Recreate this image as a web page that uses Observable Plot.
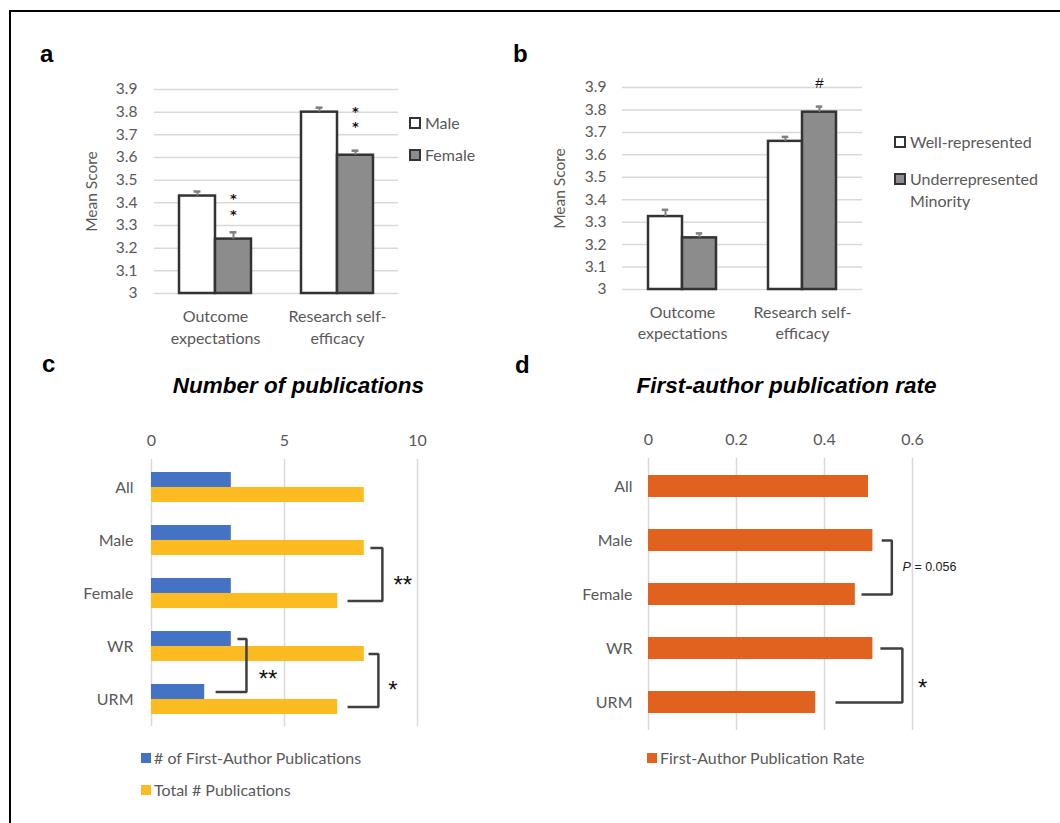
<!DOCTYPE html>
<html>
<head>
<meta charset="utf-8">
<script src="https://cdn.jsdelivr.net/npm/d3@7"></script>
<script src="https://cdn.jsdelivr.net/npm/@observablehq/plot@0.6"></script>
<style>
  html, body { margin: 0; padding: 0; background: #fff; }
  #page { position: relative; width: 1060px; height: 823px; overflow: hidden; background: #fff; font-family: Lato, "Open Sans", sans-serif; }
  .frame { position: absolute; left: 9px; top: 10px; width: 1200px; height: 1000px; border-left: 2px solid #000; border-top: 2px solid #000; }
  .abs { position: absolute; }
  .letter { position: absolute; font: bold 24px "Liberation Sans", Arial, sans-serif; line-height: 24px; color: #000; }
  .title { position: absolute; width: 420px; text-align: center; font: italic bold 22.5px "Liberation Sans", Arial, sans-serif; line-height: 22px; color: #000; white-space: nowrap; }
  .legend { position: absolute; font-family: Lato, sans-serif; font-size: 16px; color: #595959; line-height: 20px; }
  .legend .item { display: flex; align-items: flex-start; white-space: pre; }
  .swatch { display: inline-block; box-sizing: border-box; flex: none; }
</style>
</head>
<body>
<div id="page">
  <div class="frame"></div>
</div>
<script>
// ---------- data: panels a & b ----------
const scoreCategories = ["Outcome expectations", "Research self-efficacy"];
const scoreCategoryLabels = ["Outcome\nexpectations", "Research self-\nefficacy"];
const scoreTicks = [3, 3.1, 3.2, 3.3, 3.4, 3.5, 3.6, 3.7, 3.8, 3.9];

const genderGroups = ["Male", "Female"];
const maleMeans = [3.43, 3.80];
const maleErrors = [0.02, 0.02];
const femaleMeans = [3.24, 3.61];
const femaleErrors = [0.03, 0.02];

const raceGroups = ["Well-represented", "Underrepresented Minority"];
const raceLegendLabels = ["Well-represented", "Underrepresented\nMinority"];
const wrMeans = [3.325, 3.66];
const wrErrors = [0.03, 0.02];
const urmMeans = [3.23, 3.79];
const urmErrors = [0.02, 0.025];

// ---------- data: panels c & d ----------
const pubGroups = ["All", "Male", "Female", "WR", "URM"];
const firstAuthorPubs = [3, 3, 3, 3, 2];
const totalPubs = [8, 8, 7, 8, 7];
const pubTicks = [0, 5, 10];
const pubSeries = ["# of First-Author Publications", "Total # Publications"];

const firstAuthorRate = [0.50, 0.51, 0.47, 0.51, 0.38];
const rateTicks = [0, 0.2, 0.4, 0.6];
const rateSeries = ["First-Author Publication Rate"];

// ---------- colours ----------
const scoreFills = ["#ffffff", "#8c8c8c"];
const pubColors = ["#4472C4", "#FDBB22"];
const rateColor = "#E1621E";
const inkGray = "#595959";

const page = document.getElementById("page");
function place(node, left, top) {
  const d = document.createElement("div");
  d.className = "abs";
  d.style.left = left + "px";
  d.style.top = top + "px";
  d.appendChild(node);
  page.appendChild(d);
}
function addDiv(cls, text, left, top) {
  const d = document.createElement("div");
  d.className = cls;
  d.textContent = text;
  d.style.left = left + "px";
  d.style.top = top + "px";
  page.appendChild(d);
  return d;
}

// ---------- grouped score charts (a, b) ----------
function scorePlot(cfg) {
  const data = scoreCategories.flatMap((cat, i) => [
    {cat, group: cfg.groups[0], mean: cfg.means[0][i], err: cfg.errs[0][i]},
    {cat, group: cfg.groups[1], mean: cfg.means[1][i], err: cfg.errs[1][i]}
  ]);
  const bw = cfg.plotW / 2 / (2 + 2 * cfg.padOuter);
  const capInset = (bw - 7) / 2;
  return Plot.plot({
    width: cfg.marginLeft + cfg.plotW + 10,
    height: cfg.marginTop + cfg.plotH + 60,
    marginLeft: cfg.marginLeft, marginRight: 10, marginTop: cfg.marginTop, marginBottom: 60,
    style: {fontFamily: "Lato, sans-serif", color: inkGray, background: "transparent", maxWidth: "none", overflow: "visible"},
    fx: {domain: scoreCategories, padding: 0, label: null},
    x: {domain: cfg.groups, paddingInner: 0, paddingOuter: cfg.padOuter, axis: null},
    y: {domain: [scoreTicks[0], scoreTicks[scoreTicks.length - 1]]},
    color: {domain: cfg.groups, range: scoreFills},
    marks: [
      Plot.gridY(scoreTicks, {stroke: "#d9d9d9", strokeOpacity: 1, strokeWidth: 1.5}),
      Plot.axisY(scoreTicks, {tickSize: 0, tickPadding: cfg.tickPadding, fontSize: 15.5, tickFormat: d => String(d),
        label: "Mean Score", labelAnchor: "center", labelOffset: cfg.labelOffset, labelArrow: "none"}),
      Plot.axisFx({anchor: "bottom", tickSize: 0, tickPadding: cfg.fxPadding, fontSize: 16, lineHeight: cfg.fxLine, label: null,
        tickFormat: d => scoreCategoryLabels[scoreCategories.indexOf(d)]}),
      Plot.barY(data, {fx: "cat", x: "group", y1: scoreTicks[0], y2: "mean", fill: "group", stroke: "#333", strokeWidth: 2.5}),
      Plot.ruleX(data, {fx: "cat", x: "group", y1: "mean", y2: d => d.mean + d.err, stroke: "#7f7f7f", strokeWidth: 2}),
      Plot.tickY(data, {fx: "cat", x: "group", y: d => d.mean + d.err, stroke: "#7f7f7f", strokeWidth: 2.5, insetLeft: capInset, insetRight: capInset}),
      Plot.text(cfg.marks, {fx: "cat", x: "group", y: "y", text: "label", fontSize: cfg.markSize, lineHeight: cfg.markLine,
        fontWeight: cfg.markWeight, fill: "#111", fontFamily: cfg.markFont})
    ]
  });
}

// significance marks on the score charts (annotation positions in data units)
const genderMarks = [
  {cat: scoreCategories[0], group: "Female", y: 3.385, label: "*\n*"},
  {cat: scoreCategories[1], group: "Female", y: 3.77, label: "*\n*"}
];
const raceMarks = [
  {cat: scoreCategories[1], group: raceGroups[1], y: 3.92, label: "#"}
];

place(scorePlot({groups: genderGroups, means: [maleMeans, femaleMeans], errs: [maleErrors, femaleErrors],
  marginLeft: 94, marginTop: 19, plotW: 244, plotH: 204, padOuter: 0.69, tickPadding: 17, labelOffset: 69, fxPadding: 13, fxLine: 1.38,
  marks: genderMarks, markSize: 13, markLine: 1.17, markWeight: "bold", markFont: "DejaVu Sans, sans-serif"}), 60, 70);
place(scorePlot({groups: raceGroups, means: [wrMeans, urmMeans], errs: [wrErrors, urmErrors],
  marginLeft: 92, marginTop: 17, plotW: 240, plotH: 202, padOuter: 0.74, tickPadding: 16, labelOffset: 69, fxPadding: 14, fxLine: 1.28,
  marks: raceMarks, markSize: 15, markLine: 1, markWeight: "normal", markFont: "Liberation Sans, Arial, sans-serif"}), 530, 70);

// legends a, b
function scoreLegend(labels, left, tops) {
  labels.forEach((lab, i) => {
    const item = document.createElement("div");
    item.className = "legend";
    item.style.left = left + "px";
    item.style.top = tops[i] + "px";
    item.style.lineHeight = "22px";
    const row = document.createElement("div");
    row.className = "item";
    const sw = document.createElement("span");
    sw.className = "swatch";
    sw.style.cssText = `width:12px;height:12px;border:2.5px solid #333;background:${scoreFills[i]};margin:5px 4px 0 0;`;
    const tx = document.createElement("span");
    tx.textContent = lab;
    row.appendChild(sw); row.appendChild(tx);
    item.appendChild(row);
    page.appendChild(item);
  });
}
scoreLegend(genderGroups, 409, [112, 144]);
scoreLegend(raceLegendLabels, 894, [131, 168]);

// ---------- horizontal bar charts (c, d) ----------
function bracketLines(brackets) {
  return brackets.flatMap((b, i) => [
    {id: i, x: b.start, y: b.from}, {id: i, x: b.spine, y: b.from},
    {id: i, x: b.spine, y: b.to}, {id: i, x: b.end, y: b.to}
  ]);
}

const pubData = pubGroups.map((g, i) => ({group: g, first: firstAuthorPubs[i], total: totalPubs[i]}));
// brackets: x positions in data units, rows from pubGroups
const pubBrackets = [
  {from: "Male", to: "Female", series: "total", start: 8.23, spine: 8.68, end: 7.37, label: "**", labelX: 9.45, labelDy: -8},
  {from: "WR", to: "URM", series: "first", start: 3.23, spine: 3.57, end: 2.41, label: "**", labelX: 4.38, labelDy: -20},
  {from: "WR", to: "URM", series: "total", start: 8.16, spine: 8.53, end: 7.37, label: "*", labelX: 9.08, labelDy: -9}
];
const pubBand = 267 / 5 * (1 - 0.44);
const pubPlot = Plot.plot({
  width: 417, height: 321, marginLeft: 121, marginRight: 30, marginTop: 49, marginBottom: 5,
  style: {fontFamily: "Lato, sans-serif", color: inkGray, background: "transparent", maxWidth: "none", overflow: "visible"},
  x: {domain: [pubTicks[0], pubTicks[pubTicks.length - 1]]},
  y: {domain: pubGroups, paddingInner: 0.44, paddingOuter: 0.22},
  marks: [
    Plot.gridX(pubTicks, {stroke: "#d9d9d9", strokeOpacity: 1, strokeWidth: 1.5}),
    Plot.axisX(pubTicks, {anchor: "top", tickSize: 0, tickPadding: 14, fontSize: 16, label: null}),
    Plot.axisY({tickSize: 0, tickPadding: 18, fontSize: 16, label: null}),
    Plot.barX(pubData, {x: "first", y: "group", fill: pubColors[0], insetBottom: pubBand / 2}),
    Plot.barX(pubData, {x: "total", y: "group", fill: pubColors[1], insetTop: pubBand / 2}),
    Plot.line(bracketLines(pubBrackets.filter(b => b.series === "first")), {x: "x", y: "y", z: "id", dy: -pubBand / 4,
      stroke: "#404040", strokeWidth: 2.5, strokeLinejoin: "miter", strokeLinecap: "butt"}),
    Plot.line(bracketLines(pubBrackets.filter(b => b.series === "total")), {x: "x", y: "y", z: "id", dy: pubBand / 4,
      stroke: "#404040", strokeWidth: 2.5, strokeLinejoin: "miter", strokeLinecap: "butt"}),
    ...pubBrackets.map(b => Plot.text([b], {x: "labelX", y: "to", text: "label", dy: b.labelDy, fontSize: 24,
      fill: "#111", fontFamily: "Liberation Sans, Arial, sans-serif"}))
  ]
});
place(pubPlot, 30, 410);

const rateData = pubGroups.map((g, i) => ({group: g, rate: firstAuthorRate[i]}));
const rateBrackets = [
  {from: "Male", to: "Female", start: 0.53, spine: 0.553, end: 0.484, labelX: 0.577, p: "0.056"},
  {from: "WR", to: "URM", start: 0.527, spine: 0.577, end: 0.425, label: "*", labelX: 0.623}
];
const ratePlot = Plot.plot({
  width: 482, height: 325, marginLeft: 148, marginRight: 70, marginTop: 48, marginBottom: 5,
  style: {fontFamily: "Lato, sans-serif", color: inkGray, background: "transparent", maxWidth: "none", overflow: "visible"},
  x: {domain: [rateTicks[0], rateTicks[rateTicks.length - 1]]},
  y: {domain: pubGroups, paddingInner: 0.6, paddingOuter: 0.3},
  marks: [
    Plot.gridX(rateTicks, {stroke: "#d9d9d9", strokeOpacity: 1, strokeWidth: 1.5}),
    Plot.axisX(rateTicks, {anchor: "top", tickSize: 0, tickPadding: 14, fontSize: 16, label: null, tickFormat: d => String(d)}),
    Plot.axisY({tickSize: 0, tickPadding: 16, fontSize: 16, label: null}),
    Plot.barX(rateData, {x: "rate", y: "group", fill: rateColor}),
    Plot.line(bracketLines(rateBrackets), {x: "x", y: "y", z: "id",
      stroke: "#404040", strokeWidth: 2.5, strokeLinejoin: "miter", strokeLinecap: "butt"}),
    Plot.text(rateBrackets.filter(b => b.p), {x: "labelX", y: "to", text: () => "P", dy: -28, textAnchor: "start",
      fontStyle: "italic", fontSize: 12.5, fill: "#222", fontFamily: "Liberation Sans, Arial, sans-serif"}),
    Plot.text(rateBrackets.filter(b => b.p), {x: "labelX", y: "to", text: b => "= " + b.p, dy: -28, dx: 12, textAnchor: "start",
      fontSize: 12.5, fill: "#222", fontFamily: "Liberation Sans, Arial, sans-serif"}),
    Plot.text(rateBrackets.filter(b => b.label), {x: "labelX", y: "to", text: "label", dy: -14, fontSize: 24,
      fill: "#111", fontFamily: "Liberation Sans, Arial, sans-serif"})
  ]
});
place(ratePlot, 500, 410);

// legends c, d
function flatLegend(labels, colors, left, centers) {
  labels.forEach((lab, i) => {
    const item = document.createElement("div");
    item.className = "legend";
    item.style.left = left + "px";
    item.style.top = (centers[i] - 10) + "px";
    const row = document.createElement("div");
    row.className = "item";
    row.style.alignItems = "center";
    const sw = document.createElement("span");
    sw.className = "swatch";
    sw.style.cssText = `width:10px;height:10px;background:${colors[i]};margin-right:3px;`;
    const tx = document.createElement("span");
    tx.textContent = lab;
    row.appendChild(sw); row.appendChild(tx);
    item.appendChild(row);
    page.appendChild(item);
  });
}
flatLegend(pubSeries, pubColors, 141, [758, 790]);
flatLegend(rateSeries, [rateColor], 647, [758]);

// ---------- panel letters & titles ----------
addDiv("letter", "a", 40, 42);
addDiv("letter", "b", 513, 42);
addDiv("letter", "c", 42, 352);
addDiv("letter", "d", 515, 353);
addDiv("title", "Number of publications", 298.5 - 210, 375);
addDiv("title", "First-author publication rate", 786.5 - 210, 375);
</script>
</body>
</html>
